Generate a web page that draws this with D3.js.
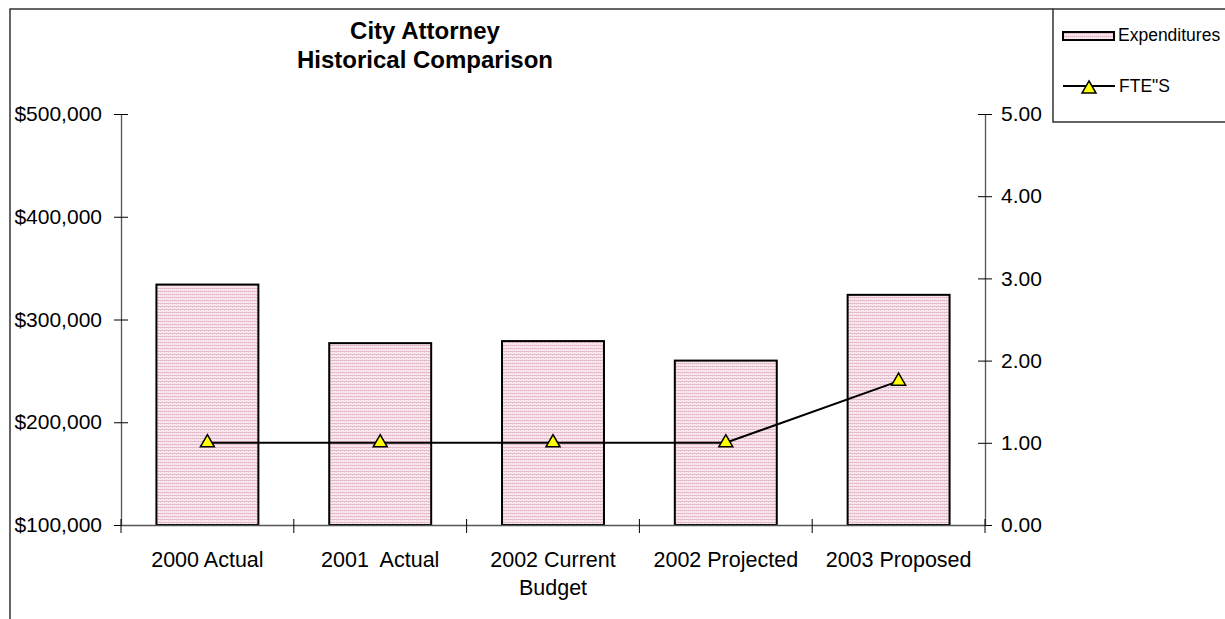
<!DOCTYPE html>
<html><head><meta charset="utf-8">
<script src="https://cdn.jsdelivr.net/npm/d3@7"></script>
<style>body{margin:0;background:#fff}svg{display:block}text{font-family:"Liberation Sans",Arial,sans-serif;fill:#000;white-space:pre}</style>
</head><body><svg id="c" width="1225" height="619"></svg>
<script>
const categories = [["2000 Actual"],["2001  Actual"],["2002 Current","Budget"],["2002 Projected"],["2003 Proposed"]];
const expenditures = [334000, 277000, 279000, 260000, 324000];
const ftes = [1.00, 1.00, 1.00, 1.00, 1.75];
const leftTicks = [100000, 200000, 300000, 400000, 500000];
const rightTicks = [0, 1, 2, 3, 4, 5];
const titleLines = ["City Attorney", "Historical Comparison"];
const legendLabels = ["Expenditures", "FTE\"S"];

const svg = d3.select("#c");
const defs = svg.append("defs");
const pat = defs.append("pattern").attr("id","pk").attr("patternUnits","userSpaceOnUse").attr("width",4).attr("height",3);
pat.append("rect").attr("width",4).attr("height",3).attr("fill","#f8eef2");
pat.append("rect").attr("width",4).attr("height",1).attr("fill","#e6bccd");
pat.append("rect").attr("x",0).attr("y",1).attr("width",1).attr("height",1).attr("fill","#edd0dc");
pat.append("rect").attr("x",2).attr("y",2).attr("width",1).attr("height",1).attr("fill","#edd0dc");

const L = 121, R = 985, T = 114, B = 525;
const x = d3.scaleBand().domain(d3.range(categories.length)).range([L, R]).paddingInner(0.41).paddingOuter(0.205);
const xc = d3.scaleBand().domain(d3.range(categories.length)).range([L, R]);
const yL = d3.scaleLinear().domain([100000, 500000]).range([B, T]);
const yR = d3.scaleLinear().domain([0, 5]).range([B, T]);
const FONT = '"Liberation Sans",Arial,sans-serif';

// outer border
svg.append("path").attr("d", `M10,619 L10,9 L1053,9`).attr("fill","none").attr("stroke","#333").attr("stroke-width",1.5);

// title
svg.append("g").selectAll("text").data(titleLines).join("text")
  .attr("x", 425).attr("y", (d,i)=>39 + i*29).attr("text-anchor","middle")
  .attr("font-size", 24).attr("font-weight","bold").text(d=>d);

// bars
svg.append("g").selectAll("rect").data(expenditures).join("rect")
  .attr("x",(d,i)=>x(i)).attr("width",x.bandwidth())
  .attr("y",d=>yL(d)).attr("height",d=>B-yL(d))
  .attr("fill","url(#pk)").attr("stroke","#000").attr("stroke-width",2);

// axes
const fmt = d => "$" + d3.format(",")(d);
const gl = svg.append("g").attr("transform",`translate(${L},0)`)
  .call(d3.axisLeft(yL).tickValues(leftTicks).tickFormat(fmt).tickSizeInner(7).tickSizeOuter(0).tickPadding(12));
gl.selectAll(".tick line").attr("x2",7).attr("x1",-7);
const gr = svg.append("g").attr("transform",`translate(${R},0)`)
  .call(d3.axisRight(yR).tickValues(rightTicks).tickFormat(d3.format(".2f")).tickSizeInner(7).tickSizeOuter(0).tickPadding(9));
gr.selectAll(".tick line").attr("x1",-7).attr("x2",7);
const gb = svg.append("g").attr("transform",`translate(0,${B})`)
  .call(d3.axisBottom(xc).tickValues([]).tickSizeOuter(0));
gb.selectAll(".ct").data(d3.range(categories.length+1)).join("line")
  .attr("x1",i=>L + i*xc.step()).attr("x2",i=>L + i*xc.step()).attr("y1",-6).attr("y2",8).attr("stroke","#000");
[gl,gr,gb].forEach(g=>{
  g.select(".domain").attr("stroke","#555").attr("stroke-width",1.3);
  g.selectAll(".tick line").attr("stroke","#000");
  g.selectAll("text").attr("font-size",21).attr("font-family",FONT).attr("fill","#000");
});

// category labels
const cl = svg.append("g").selectAll("text").data(categories).join("text")
  .attr("x",(d,i)=>xc(i)+xc.bandwidth()/2).attr("y",567).attr("text-anchor","middle").attr("font-size",21.5);
cl.selectAll("tspan").data(d=>d).join("tspan")
  .attr("x",function(){return this.parentNode.getAttribute("x");}).attr("dy",(d,i)=>i?28:0).text(d=>d);

// FTE line
const tri = d3.symbol().type(d3.symbolTriangle).size(85);
const line = d3.line().x((d,i)=>xc(i)+xc.bandwidth()/2).y(d=>yR(d));
svg.append("path").datum(ftes).attr("d",line).attr("fill","none").attr("stroke","#000").attr("stroke-width",2);
svg.append("g").selectAll("path").data(ftes).join("path")
  .attr("transform",(d,i)=>`translate(${xc(i)+xc.bandwidth()/2},${yR(d)})`)
  .attr("d",tri).attr("fill","#ffff00").attr("stroke","#000").attr("stroke-width",1.5);

// legend
const lg = svg.append("g");
lg.append("path").attr("d","M1230,9 L1053,9 L1053,122 L1230,122").attr("fill","#fff").attr("stroke","#333").attr("stroke-width",1.5);
lg.append("rect").attr("x",1063).attr("y",32).attr("width",51).attr("height",8).attr("fill","url(#pk)").attr("stroke","#000").attr("stroke-width",2);
lg.append("text").attr("x",1118).attr("y",41).attr("font-size",17.5).text(legendLabels[0]);
lg.append("line").attr("x1",1063).attr("x2",1115).attr("y1",86).attr("y2",86).attr("stroke","#000").attr("stroke-width",2);
lg.append("path").attr("transform","translate(1089,89)").attr("d",tri).attr("fill","#ffff00").attr("stroke","#000").attr("stroke-width",1.5);
lg.append("text").attr("x",1119).attr("y",92).attr("font-size",17.5).text(legendLabels[1]);
</script></body></html>
